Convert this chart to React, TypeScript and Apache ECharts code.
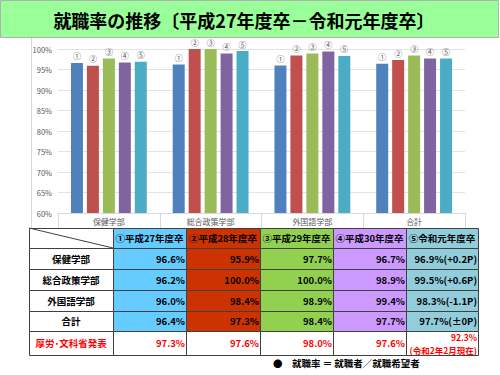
import React, { useEffect, useRef } from "react";
import * as echarts from "echarts";

const categories = ["保健学部", "総合政策学部", "外国語学部", "合計"];
const years = ["①平成27年度卒", "②平成28年度卒", "③平成29年度卒", "④平成30年度卒", "⑤令和元年度卒"];
const barLabels = ["①", "②", "③", "④", "⑤"];
const h27 = [96.6, 96.2, 96.0, 96.4];
const h28 = [95.9, 100.0, 98.4, 97.3];
const h29 = [97.7, 100.0, 98.9, 98.4];
const h30 = [96.7, 98.9, 99.4, 97.7];
const r01 = [96.9, 99.5, 98.3, 97.7];
const r01Diff = ["+0.2P", "+0.6P", "-1.1P", "±0P"];
const ministryLabel = "厚労･文科省発表";
const ministry = [97.3, 97.6, 98.0, 97.6, 92.3];
const ministryNote = "(令和2年2月現在)";
const yTicks = { min: 60, max: 100, interval: 5 };

const barColors = ["#4F81BD", "#C0504D", "#9BBB59", "#8064A2", "#4BACC6"];
const cellColors = ["#ffffff", "#66CCFF", "#CC3300", "#92D050", "#CC99FF", "#92CDDC"];
const FONT = '"Noto Sans CJK JP", "Noto Sans", sans-serif';

function txt(x: number, y: number, text: string, align: string, size: number, color: string, bold = true) {
  return {
    type: "text",
    x,
    y,
    silent: true,
    style: {
      text,
      fill: color,
      font: `${bold ? "bold " : ""}${size}px ${FONT}`,
      textAlign: align,
      textVerticalAlign: "middle",
      align,
      verticalAlign: "middle",
    },
  };
}

export default function App() {
  const ref = useRef<HTMLDivElement>(null);
  useEffect(() => {
    if (!ref.current) return;
    const chart = echarts.init(ref.current, undefined, { renderer: "svg" });
    const all = [h27, h28, h29, h30, r01];

    const colX = [29, 113, 186, 260, 333, 406, 478];
    const rowY = [228, 248, 269, 290, 311, 331, 355];
    const graphics: any[] = [];

    // title banner
    graphics.push({
      type: "rect",
      shape: { x: 0.5, y: 0.5, width: 498, height: 37 },
      style: { fill: "#99FF99", stroke: "#b0b0b0", lineWidth: 1 },
      silent: true,
    });
    graphics.push(txt(244, 20, "就職率の推移〔平成27年度卒－令和元年度卒〕", "center", 18, "#000"));
    // chart left border line
    graphics.push({
      type: "line",
      shape: { x1: 31.5, y1: 38, x2: 31.5, y2: 228 },
      style: { stroke: "#d9d9d9", lineWidth: 1 },
      silent: true,
    });

    // table cells
    for (let r = 0; r < 6; r++) {
      for (let c = 0; c < 6; c++) {
        const fill = r === 5 || c === 0 ? "#ffffff" : cellColors[c];
        graphics.push({
          type: "rect",
          shape: {
            x: colX[c] + 0.5,
            y: rowY[r] + 0.5,
            width: colX[c + 1] - colX[c],
            height: rowY[r + 1] - rowY[r],
          },
          style: { fill, stroke: "#404040", lineWidth: 1 },
          silent: true,
        });
      }
    }
    // diagonal
    graphics.push({
      type: "line",
      shape: { x1: colX[0], y1: rowY[0], x2: colX[1], y2: rowY[1] },
      style: { stroke: "#404040", lineWidth: 1 },
      silent: true,
    });
    // header
    for (let c = 1; c < 6; c++) {
      graphics.push(txt((colX[c] + colX[c + 1]) / 2, (rowY[0] + rowY[1]) / 2, years[c - 1], "center", 9.5, "#000"));
    }
    // body
    for (let i = 0; i < categories.length; i++) {
      const yc = (rowY[i + 1] + rowY[i + 2]) / 2;
      graphics.push(txt((colX[0] + colX[1]) / 2, yc, categories[i], "center", 9.5, "#000"));
      for (let s = 0; s < 5; s++) {
        let t = all[s][i].toFixed(1) + "%";
        if (s === 4) t += "(" + r01Diff[i] + ")";
        graphics.push(txt(colX[s + 2] - 1, yc, t, "right", 9.5, "#000"));
      }
    }
    // ministry row
    const ym = (rowY[5] + rowY[6]) / 2;
    graphics.push(txt((colX[0] + colX[1]) / 2, ym, ministryLabel, "center", 9.5, "#FF0000"));
    for (let s = 0; s < 5; s++) {
      const t = ministry[s].toFixed(1) + "%";
      if (s === 4) {
        graphics.push(txt(colX[6] - 1, 337, t, "right", 8.5, "#FF0000"));
        graphics.push(txt(colX[6] - 1, 349.5, ministryNote, "right", 8.5, "#FF0000"));
      } else {
        graphics.push(txt(colX[s + 2] - 1, ym, t, "right", 9.5, "#FF0000"));
      }
    }
    // footer
    graphics.push(txt(273, 363, "●　就職率 ＝ 就職者／就職希望者", "left", 9.5, "#000"));

    chart.setOption({
      animation: false,
      backgroundColor: "#ffffff",
      grid: { left: 58, right: 35, top: 49, bottom: 162, containLabel: false },
      xAxis: {
        type: "category",
        data: categories,
        axisLine: { show: true, lineStyle: { color: "#d9d9d9" } },
        axisTick: { show: true, length: 15, lineStyle: { color: "#d9d9d9" } },
        axisLabel: { color: "#595959", fontSize: 8, margin: 4, fontFamily: FONT },
      },
      yAxis: {
        type: "value",
        min: yTicks.min,
        max: yTicks.max,
        interval: yTicks.interval,
        axisLine: { show: false },
        axisTick: { show: false },
        splitLine: { lineStyle: { color: "#e3e3e3" } },
        axisLabel: { color: "#595959", fontSize: 7.5, margin: 6, formatter: "{value}%", fontFamily: FONT },
      },
      series: all.map((d, s) => ({
        type: "bar",
        name: years[s],
        data: d,
        barWidth: 12,
        barGap: "33%",
        itemStyle: { color: barColors[s] },
        label: {
          show: true,
          position: "top",
          distance: 3,
          formatter: barLabels[s],
          color: "#595959",
          fontSize: 8,
          fontFamily: FONT,
        },
      })),
      graphic: graphics,
    });
    return () => chart.dispose();
  }, []);
  return <div ref={ref} style={{ position: "fixed", left: 0, top: 0, width: 500, height: 375 }} />;
}
